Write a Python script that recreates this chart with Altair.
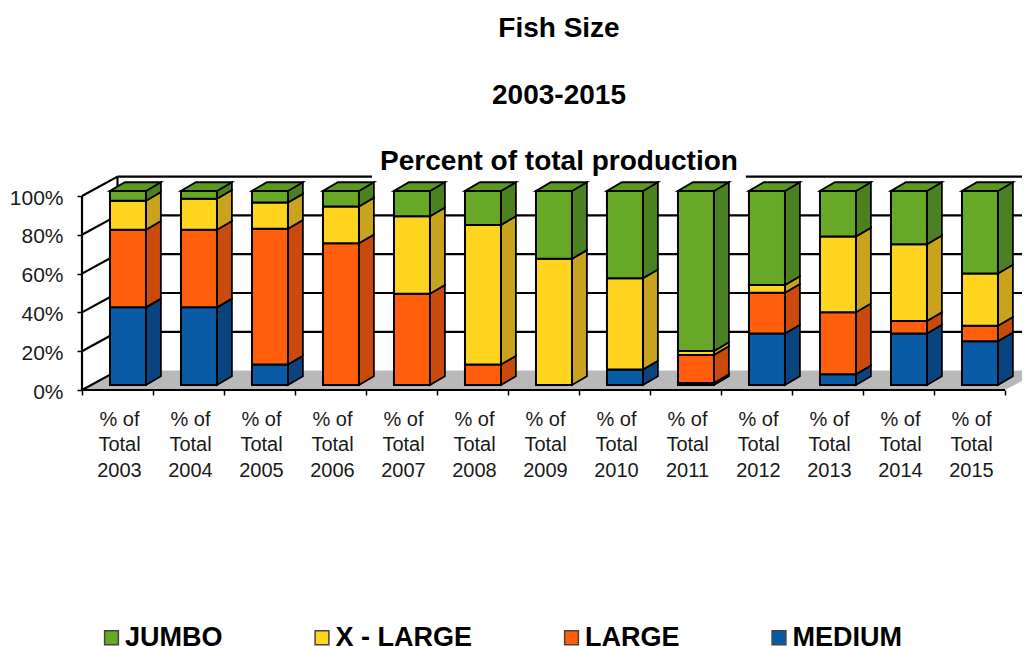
import altair as alt
import pandas as pd

YEARS = [2003, 2004, 2005, 2006, 2007, 2008, 2009, 2010, 2011, 2012, 2013, 2014, 2015]
MEDIUM = [40, 40, 10.5, 0, 0, 0, 0, 8, 1, 26.5, 5.5, 26.5, 22.5]
LARGE = [40, 40, 70, 73, 47, 10.5, 0, 0, 14.5, 21, 32, 6.5, 8]
XLARGE = [15, 16, 13.5, 19, 40, 72, 65, 47, 2, 4, 39, 39.5, 27]
JUMBO = [5, 4, 6, 8, 13, 17.5, 35, 45, 82.5, 48.5, 23.5, 27.5, 42.5]

SERIES = [("MEDIUM", MEDIUM), ("LARGE", LARGE), ("X - LARGE", XLARGE), ("JUMBO", JUMBO)]
LEGEND_ORDER = ["JUMBO", "X - LARGE", "LARGE", "MEDIUM"]
FRONT = {"JUMBO": "#67A826", "X - LARGE": "#FFD51F", "LARGE": "#FF5E0C", "MEDIUM": "#0A5BA5"}
SIDE = {"JUMBO": "#4C8121", "X - LARGE": "#C9A31E", "LARGE": "#C94A0C", "MEDIUM": "#0A4480"}
TOP_COLOR = "#5A9A1C"
FONT = "Liberation Sans"

# chart geometry in data units: one category = 1 on x, one percent = 1 on y
PLOT_W = 940
WALL_DX, WALL_DY = 0.5, 10.0
BAR_X0, BAR_W = 0.394, 0.507
BAR_Y0 = 2.6
BAR_DX, BAR_DY = 0.21, 4.5
X_MAX, Y_MAX = PLOT_W / 71, 220 / 1.94

x_scale = alt.Scale(domain=[0, X_MAX], nice=False, zero=False)
y_scale = alt.Scale(domain=[0, Y_MAX], nice=False, zero=False)
color_domain = LEGEND_ORDER + [s + " side" for s in LEGEND_ORDER] + ["top"]
color_range = [FRONT[s] for s in LEGEND_ORDER] + [SIDE[s] for s in LEGEND_ORDER] + [TOP_COLOR]
color_scale = alt.Scale(domain=color_domain, range=color_range)
legend = alt.Legend(
    title=None, orient="none", legendX=16, legendY=454, direction="horizontal", columns=4,
    values=LEGEND_ORDER, symbolType="square", symbolSize=190, symbolStrokeColor="#444444",
    symbolStrokeWidth=1.5, symbolOpacity=1, labelFont=FONT, labelFontSize=27, labelFontWeight="bold",
    labelColor="black", columnPadding=85.5, labelOffset=0, labelLimit=400,
)
color = alt.Color("face:N", scale=color_scale, legend=legend, sort=color_domain)

fronts, sides, tops = [], [], []
for i, year in enumerate(YEARS):
    xl = i + BAR_X0
    xr = xl + BAR_W
    base = BAR_Y0
    for name, values in SERIES:
        v = values[i]
        if v <= 0:
            continue
        top = base + v
        seg = f"{year}-{name}"
        fronts.append({"x": xl, "x2": xr, "y": base, "y2": top, "face": name})
        sides.append({"seg": seg, "x": xr, "y": base, "y2": top, "face": name + " side"})
        sides.append({"seg": seg, "x": xr + BAR_DX, "y": base + BAR_DY, "y2": top + BAR_DY, "face": name + " side"})
        base = top
    for px, lo, hi in [
        (xl, base, base),
        (xl + BAR_DX, base, base + BAR_DY),
        (xr, base, base + BAR_DY),
        (xr + BAR_DX, base + BAR_DY, base + BAR_DY),
    ]:
        tops.append({"seg": str(year), "x": px, "y": lo, "y2": hi, "face": "top"})

floor = pd.DataFrame([
    {"x": 0, "y": 0, "y2": 0},
    {"x": WALL_DX, "y": 0, "y2": WALL_DY},
    {"x": len(YEARS), "y": 0, "y2": WALL_DY},
    {"x": len(YEARS) + WALL_DX, "y": WALL_DY, "y2": WALL_DY},
])

GRID = [0, 20, 40, 60, 80, 100]
lines = []
for g in GRID:
    lines.append({"x": 0, "x2": WALL_DX, "y": g, "y2": g + WALL_DY})
    if 0 < g < 100:
        lines.append({"x": WALL_DX, "x2": X_MAX, "y": g + WALL_DY, "y2": g + WALL_DY})
# the top edge of the wall stops either side of the heading
lines.append({"x": WALL_DX, "x2": 4.085, "y": 100 + WALL_DY, "y2": 100 + WALL_DY})
lines.append({"x": 9.35, "x2": X_MAX, "y": 100 + WALL_DY, "y2": 100 + WALL_DY})
lines.append({"x": WALL_DX, "x2": WALL_DX, "y": WALL_DY, "y2": 100 + WALL_DY})
lines.append({"x": 0, "x2": 0, "y": 0, "y2": 100})
lines.append({"x": 0, "x2": len(YEARS), "y": 0, "y2": 0})
lines = pd.DataFrame(lines)

year_list = "[" + ",".join(str(y) for y in YEARS) + "]"
label_expr = f"datum.value < {len(YEARS)} ? ['% of', 'Total', '' + {year_list}[datum.value]] : ''"

x_axis = alt.Axis(
    values=list(range(len(YEARS) + 1)), title=None, domain=False, grid=False, ticks=True, tickSize=5,
    tickWidth=1.5, tickColor="black", labelExpr=label_expr, labelOffset=37, labelAngle=0, labelAlign="center",
    labelBaseline="top", labelPadding=14, labelFont=FONT, labelFontSize=20, labelColor="#1a1a1a",
    labelLineHeight=25.5, labelOverlap=False, labelFlush=False, labelBound=False,
)
y_axis = alt.Axis(
    values=GRID, title=None, domain=False, grid=False, ticks=True, tickSize=5, tickWidth=1.5, tickColor="black",
    labelExpr="datum.value + '%'", labelPadding=14, labelOffset=2, labelFont=FONT, labelFontSize=21, labelColor="#1a1a1a",
    labelOverlap=False, labelFlush=False, labelBound=False,
)

X = alt.X("x:Q", scale=x_scale, axis=x_axis)
Y = alt.Y("y:Q", scale=y_scale, axis=y_axis)

floor_layer = alt.Chart(floor).mark_area(fill="#B9B9B9", opacity=1).encode(x=X, y=Y, y2="y2:Q")
wall = alt.Chart(lines).mark_rule(color="black", strokeWidth=2.2).encode(x=X, x2="x2:Q", y=Y, y2="y2:Q")
side_layer = alt.Chart(pd.DataFrame(sides)).mark_area(stroke="black", strokeWidth=1.8, opacity=1).encode(
    x=X, y=Y, y2="y2:Q", color=color, detail="seg:N"
)
top_layer = alt.Chart(pd.DataFrame(tops)).mark_area(stroke="black", strokeWidth=1.8, opacity=1).encode(
    x=X, y=Y, y2="y2:Q", color=color, detail="seg:N"
)
front_layer = alt.Chart(pd.DataFrame(fronts)).mark_rect(stroke="black", strokeWidth=2, opacity=1).encode(
    x=X, x2="x2:Q", y=Y, y2="y2:Q", color=color
)

chart = alt.layer(floor_layer, wall, side_layer, top_layer, front_layer).properties(
    width=PLOT_W, height=220,
    autosize=alt.AutoSizeParams(type="none"),
    padding={"left": 74, "right": 0, "top": 162, "bottom": 256},
    title=alt.TitleParams(
        text=["Fish Size", "2003-2015", "Percent of total production"],
        font=FONT, fontSize=28, fontWeight="bold", color="black", lineHeight=66.5,
        anchor="middle", dx=7, offset=-6, align="center",
    ),
).configure_view(stroke=None)

chart.save("out.html", embed_options={"renderer": "svg", "actions": False})
